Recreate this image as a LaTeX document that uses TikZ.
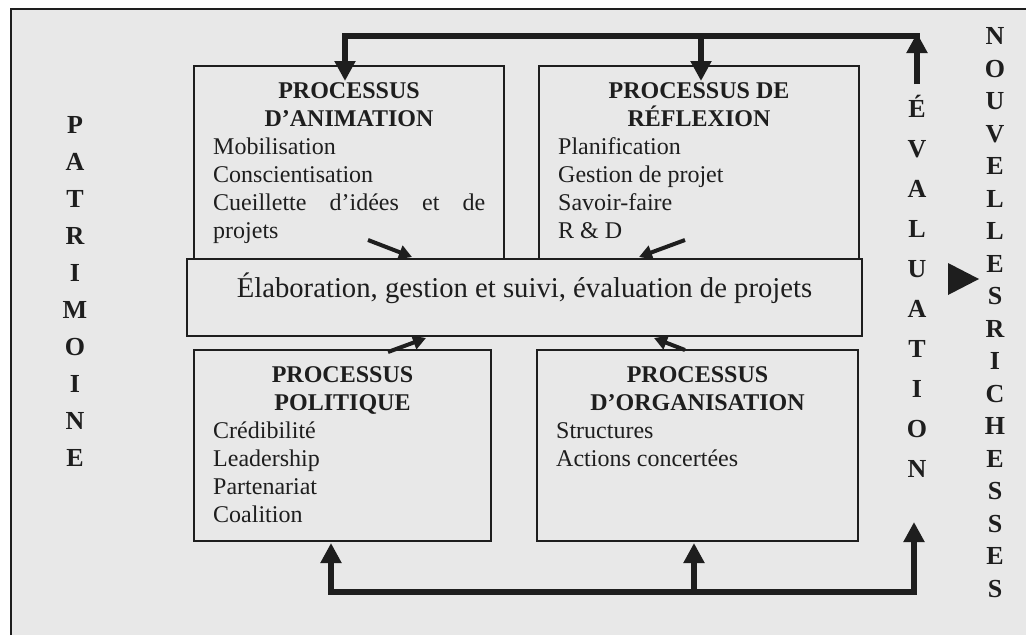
\documentclass[tikz,border=0pt]{standalone}
\usepackage{fontspec}
\setmainfont{Liberation Serif}
\usetikzlibrary{arrows.meta}
\definecolor{paper}{RGB}{232,232,232}
\definecolor{ink}{RGB}{30,30,30}
\begin{document}
\begin{tikzpicture}[x=1pt,y=-1pt,
  box/.style={draw=ink, line width=1.6pt, fill=paper, inner sep=0pt, outer sep=0pt, anchor=north west},
  head/.style={font=\fontsize{24}{28}\selectfont\bfseries, text=ink, inner sep=0pt, anchor=base},
  item/.style={font=\fontsize{24}{28}\selectfont, text=ink, inner sep=0pt, anchor=base west},
  side/.style={font=\fontsize{26}{30}\selectfont\bfseries, text=ink, inner sep=0pt, anchor=base},
  bigarrow/.style={draw=ink, line width=6.5pt, line join=miter, -{Triangle[length=20pt,width=20pt]}},
  smallarrow/.style={draw=ink, line width=4pt, -{Triangle[length=13pt,width=14pt]}}
]
\useasboundingbox (0,0) rectangle (1026,635);
\fill[white] (0,0) rectangle (1026,635);
\fill[paper] (11,9) rectangle (1026,635);
\draw[ink, line width=1.8pt] (11,635) -- (11,9) -- (1026,9);

% the four process boxes
\node[box, minimum width=310pt, minimum height=200pt] (anim) at (194,66) {};
\node[box, minimum width=320pt, minimum height=200pt] (refl) at (539,66) {};
\node[box, minimum width=297pt, minimum height=191pt] (polit) at (194,350) {};
\node[box, minimum width=321pt, minimum height=191pt] (org) at (537,350) {};

% central box
\node[box, minimum width=675pt, minimum height=77pt] (elab) at (187,259) {};
\node[font=\fontsize{28.7}{32}\selectfont, text=ink, inner sep=0pt, anchor=base] (elabtext) at (524.5,297) {Élaboration, gestion et suivi, évaluation de projets};

% box texts
\node[head] (animh1) at (349,98) {PROCESSUS};
\node[head] (animh2) at (349,126) {D’ANIMATION};
\node[item] (anim1) at (213,154) {Mobilisation};
\node[item] (anim2) at (213,182) {Conscientisation};
\node[item] (anim3) at (213,210) {\makebox[272pt][s]{Cueillette d’idées et de}};
\node[item] (anim4) at (213,238) {projets};

\node[head] (reflh1) at (699,98) {PROCESSUS DE};
\node[head] (reflh2) at (699,126) {RÉFLEXION};
\node[item] (refl1) at (558,154) {Planification};
\node[item] (refl2) at (558,182) {Gestion de projet};
\node[item] (refl3) at (558,210) {Savoir-faire};
\node[item] (refl4) at (558,238) {R \& D};

\node[head] (polith1) at (342.5,382) {PROCESSUS};
\node[head] (polith2) at (342.5,410) {POLITIQUE};
\node[item] (polit1) at (213,438) {Crédibilité};
\node[item] (polit2) at (213,466) {Leadership};
\node[item] (polit3) at (213,494) {Partenariat};
\node[item] (polit4) at (213,522) {Coalition};

\node[head] (orgh1) at (697.5,382) {PROCESSUS};
\node[head] (orgh2) at (697.5,410) {D’ORGANISATION};
\node[item] (org1) at (556,438) {Structures};
\node[item] (org2) at (556,466) {Actions concertées};

% arrows into the central box
\coordinate (d1) at (368,240); \coordinate (d1t) at (412,257);
\coordinate (d2) at (685,240); \coordinate (d2t) at (639,257);
\coordinate (d3) at (388,352); \coordinate (d3t) at (426,338);
\coordinate (d4) at (685,350); \coordinate (d4t) at (654,338);
\draw[smallarrow] (d1) -- (d1t);
\draw[smallarrow] (d2) -- (d2t);
\draw[smallarrow] (d3) -- (d3t);
\draw[smallarrow] (d4) -- (d4t);

% upper feedback loop
\coordinate (t1) at (345,36);
\coordinate (t2) at (701,36);
\coordinate (t3) at (920,36);
\coordinate (e1) at (917,84);
\coordinate (e1t) at (917,33);
\draw[bigarrow] (t3) -- (t1) -- ([yshift=-15pt]t1 |- anim.north);
\draw[bigarrow] (t2) -- ([yshift=-15pt]t2 |- refl.north);
\draw[bigarrow] (e1) -- (e1t);

% lower feedback loop
\coordinate (b1) at (331,592);
\coordinate (b2) at (694,592);
\coordinate (b3) at (914,592);
\coordinate (e2) at (914,522);
\draw[draw=ink, line width=6.5pt, line join=miter, {Triangle[length=20pt,width=20pt]}-{Triangle[length=20pt,width=20pt]}]
  ([yshift=-2pt]b1 |- polit.south) -- (b1) -- (b3) -- (e2);
\draw[bigarrow] (b2) -- ([yshift=-2pt]b2 |- org.south);

% output marker
\fill[ink] (948,263) -- (979,279) -- (948,295) -- cycle;

% side words, one letter per line
\foreach \l [count=\i from 0] in {P,A,T,R,I,M,O,I,N,E}
  \node[side] (pat\i) at (75,{133+37*\i}) {\l};
\foreach \l [count=\i from 0] in {É,V,A,L,U,A,T,I,O,N}
  \node[side] (eva\i) at (917,{117+40*\i}) {\l};
\foreach \l [count=\i from 0] in {N,O,U,V,E,L,L,E,S,R,I,C,H,E,S,S,E,S}
  \node[side] (nou\i) at (995,{272+32.5*(\i-7)}) {\l};
\end{tikzpicture}
\end{document}
